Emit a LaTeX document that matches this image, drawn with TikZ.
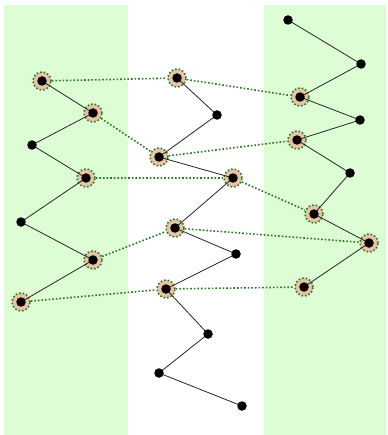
\documentclass[tikz,border=0pt]{standalone}
\definecolor{bandgreen}{HTML}{DDFDD4}
\definecolor{ringfill}{HTML}{E8C3A8}
\definecolor{dotgreen}{HTML}{2A7A22}
\begin{document}
\begin{tikzpicture}[x=1pt,y=-1pt,
  pt/.style={circle,fill=black,inner sep=0pt,minimum size=9.5pt},
  ring/.style={circle,draw=dotgreen,fill=ringfill,dotted,line width=1.6pt,inner sep=0pt,minimum size=18pt},
  chain/.style={draw=black!85,line width=0.8pt},
  link/.style={draw=dotgreen,dotted,line width=1.6pt}]
\useasboundingbox (0,0) rectangle (387,435);
\fill[bandgreen] (4,5) rectangle (128,435);
\fill[bandgreen] (264,5) rectangle (386,435);
% rings
\node[ring] (L1) at (42,81) {};
\node[ring] (L2) at (93,113) {};
\node[ring] (L4) at (86,178) {};
\node[ring] (L6) at (93,260) {};
\node[ring] (L7) at (21,302) {};
\node[ring] (M1) at (177,78) {};
\node[ring] (M3) at (159,157) {};
\node[ring] (M4) at (233,178) {};
\node[ring] (M5) at (175,228) {};
\node[ring] (M7) at (166,289) {};
\node[ring] (R3) at (300,97) {};
\node[ring] (R5) at (297,140) {};
\node[ring] (R7) at (314,214) {};
\node[ring] (R8) at (369,243) {};
\node[ring] (R9) at (304,287) {};
% plain coordinates
\coordinate (L3) at (32,145);
\coordinate (L5) at (21,222);
\coordinate (M2) at (217,115);
\coordinate (M6) at (236,254);
\coordinate (M8) at (208,334);
\coordinate (M9) at (159,373);
\coordinate (M10) at (242,406);
\coordinate (R1) at (288,20);
\coordinate (R2) at (361,64);
\coordinate (R4) at (360,120);
\coordinate (R6) at (350,173);
% chains
\draw[chain] (L1.center)--(L2.center)--(L3)--(L4.center)--(L5)--(L6.center)--(L7.center);
\draw[chain] (M1.center)--(M2)--(M3.center)--(M4.center)--(M5.center)--(M6)--(M7.center)--(M8)--(M9)--(M10);
\draw[chain] (R1)--(R2)--(R3.center)--(R4)--(R5.center)--(R6)--(R7.center)--(R8.center)--(R9.center);
% dots
\foreach \n in {L1,L2,L3,L4,L5,L6,L7,M1,M2,M3,M4,M5,M6,M7,M8,M9,M10,R1,R2,R3,R4,R5,R6,R7,R8,R9}
  \node[pt] (d\n) at (\n) {};
% links
\draw[link] (L1) -- (M1) -- (R3);
\draw[link] (L2) -- (M3) -- (R5);
\draw[link] (L4) -- (M4) -- (R7);
\draw[link] (L6) -- (M5) -- (R8);
\draw[link] (L7) -- (M7) -- (R9);
\end{tikzpicture}
\end{document}
